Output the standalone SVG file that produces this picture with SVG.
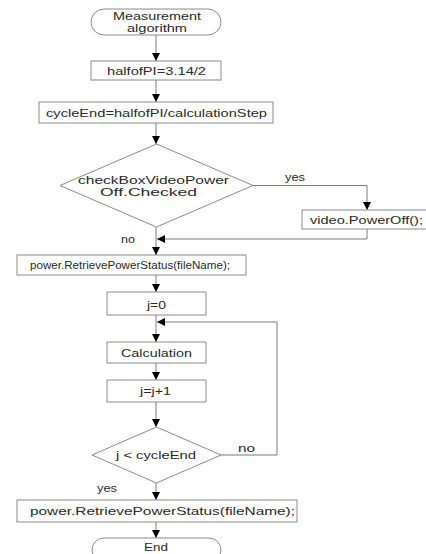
<svg xmlns="http://www.w3.org/2000/svg" width="426" height="554" viewBox="0 0 426 554">
<style>
.s{fill:#fff;stroke:#8a8a8a;stroke-width:1}
.t{font-family:"Liberation Sans",Arial,sans-serif;font-size:11.5px;fill:#2a2a2a;text-anchor:middle}
.l{font-family:"Liberation Sans",Arial,sans-serif;font-size:11.5px;fill:#2a2a2a}
.c{fill:none;stroke:#7a7a7a;stroke-width:1}
</style>
<defs>
<marker id="ah" markerUnits="userSpaceOnUse" markerWidth="9" markerHeight="8" refX="8" refY="4" orient="auto">
<path d="M0,0 L8,4 L0,8 z" fill="#000"/>
</marker>
</defs>
<rect width="426" height="554" fill="#fff"/>
<g id="connectors">
<path class="c" d="M156,35 V61" marker-end="url(#ah)"/>
<path class="c" d="M156,80 V102" marker-end="url(#ah)"/>
<path class="c" d="M156,123 V144" marker-end="url(#ah)"/>
<path class="c" d="M253,185.5 H367 V210" marker-end="url(#ah)"/>
<path class="c" d="M367,229 V239 H157" marker-end="url(#ah)"/>
<path class="c" d="M156,227 V255" marker-end="url(#ah)"/>
<path class="c" d="M156,275 V292" marker-end="url(#ah)"/>
<path class="c" d="M156,315 V342" marker-end="url(#ah)"/>
<path class="c" d="M221,455 H277 V322 H157" marker-end="url(#ah)"/>
<path class="c" d="M156,363 V380" marker-end="url(#ah)"/>
<path class="c" d="M156,402 V427" marker-end="url(#ah)"/>
<path class="c" d="M156,483 V500" marker-end="url(#ah)"/>
<path class="c" d="M156,522 V538" marker-end="url(#ah)"/>
<text class="l" x="285" y="181" textLength="20" lengthAdjust="spacingAndGlyphs">yes</text>
<text class="l" x="121" y="243" textLength="14" lengthAdjust="spacingAndGlyphs">no</text>
<text class="l" x="238" y="452" textLength="17" lengthAdjust="spacingAndGlyphs">no</text>
<text class="l" x="97" y="492" textLength="20" lengthAdjust="spacingAndGlyphs">yes</text>
</g>
<g id="start">
<rect class="s" x="91" y="9" width="130" height="26" rx="13" ry="13"/>
<text class="t" x="157" y="20" textLength="88" lengthAdjust="spacingAndGlyphs">Measurement</text>
<text class="t" x="157" y="32" textLength="60" lengthAdjust="spacingAndGlyphs">algorithm</text>
</g>
<g id="halfofPI">
<rect class="s" x="91" y="61" width="130" height="19"/>
<text class="t" x="156.5" y="75" textLength="99" lengthAdjust="spacingAndGlyphs">halfofPI=3.14/2</text>
</g>
<g id="cycleEnd">
<rect class="s" x="39" y="102" width="234" height="21"/>
<text class="t" x="156.5" y="117" textLength="221" lengthAdjust="spacingAndGlyphs">cycleEnd=halfofPI/calculationStep</text>
</g>
<g id="checkBox">
<polygon class="s" points="156.5,144 253,185.5 156.5,227 60,185.5"/>
<text class="t" x="153.5" y="184" textLength="151" lengthAdjust="spacingAndGlyphs">checkBoxVideoPower</text>
<text class="t" x="148.5" y="196" textLength="97" lengthAdjust="spacingAndGlyphs">Off.Checked</text>
</g>
<g id="videoPowerOff">
<rect class="s" x="302" y="210" width="126" height="19"/>
<text class="t" x="366.5" y="224" textLength="113" lengthAdjust="spacingAndGlyphs">video.PowerOff();</text>
</g>
<g id="retrieve1">
<rect class="s" x="17" y="255" width="229" height="20"/>
<text class="t" x="130" y="269" textLength="200" lengthAdjust="spacingAndGlyphs">power.RetrievePowerStatus(fileName);</text>
</g>
<g id="j0">
<rect class="s" x="107" y="292" width="99" height="23"/>
<text class="t" x="156.5" y="309" textLength="19" lengthAdjust="spacingAndGlyphs">j=0</text>
</g>
<g id="calculation">
<rect class="s" x="107" y="342" width="99" height="21"/>
<text class="t" x="156.5" y="357" textLength="71" lengthAdjust="spacingAndGlyphs">Calculation</text>
</g>
<g id="jinc">
<rect class="s" x="107" y="380" width="99" height="22"/>
<text class="t" x="155.5" y="395" textLength="31" lengthAdjust="spacingAndGlyphs">j=j+1</text>
</g>
<g id="loopCond">
<polygon class="s" points="156.5,427 221,455 156.5,483 92,455"/>
<text class="t" x="156" y="459" textLength="80" lengthAdjust="spacingAndGlyphs">j &lt; cycleEnd</text>
</g>
<g id="retrieve2">
<rect class="s" x="17" y="500" width="280" height="22"/>
<text class="t" x="162.5" y="515" textLength="265" lengthAdjust="spacingAndGlyphs">power.RetrievePowerStatus(fileName);</text>
</g>
<g id="end">
<rect class="s" x="92" y="538" width="129" height="24" rx="12" ry="12"/>
<text class="t" x="156" y="551" textLength="24" lengthAdjust="spacingAndGlyphs">End</text>
</g>
</svg>
